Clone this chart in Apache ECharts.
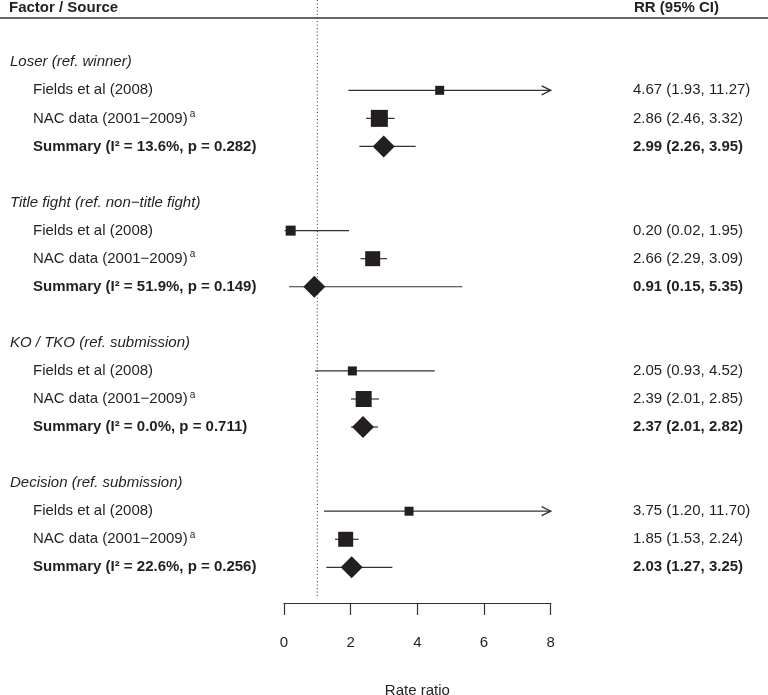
<!DOCTYPE html>
<html><head><meta charset="utf-8">
<script src="https://cdn.jsdelivr.net/npm/echarts@6/dist/echarts.min.js"></script>
<style>html,body{margin:0;padding:0;background:#fff}#c{width:768px;height:695px}</style>
</head><body><div id="c"></div>
<script>
// ---- data ----
const groupLabels = ['Loser (ref. winner)', 'Title fight (ref. non\u2212title fight)', 'KO / TKO (ref. submission)', 'Decision (ref. submission)'];
const fieldsLabel = 'Fields et al (2008)';
const nacLabel = 'NAC data (2001\u22122009)';
const fieldsRR = [4.67, 0.20, 2.05, 3.75];
const fieldsLo = [1.93, 0.02, 0.93, 1.20];
const fieldsHi = [11.27, 1.95, 4.52, 11.70];
const nacRR = [2.86, 2.66, 2.39, 1.85];
const nacLo = [2.46, 2.29, 2.01, 1.53];
const nacHi = [3.32, 3.09, 2.85, 2.24];
const sumRR = [2.99, 0.91, 2.37, 2.03];
const sumLo = [2.26, 0.15, 2.01, 1.27];
const sumHi = [3.95, 5.35, 2.82, 3.25];
const sumI2 = ['13.6%', '51.9%', '0.0%', '22.6%'];
const sumP = ['0.282', '0.149', '0.711', '0.256'];
const xTicks = [0, 2, 4, 6, 8];
const refValue = 1;

// ---- styling ----
const FONT = '"Liberation Sans", Arial, Helvetica, sans-serif';
const INK = '#231f20';
const fieldsBox = [9, 10, 9, 9];
const nacBox = [17, 15, 16, 15];
const diamondW = 22, diamondH = 22;
const xMin = 0, xMax = 8;

const rows = [];
groupLabels.forEach((g, i) => {
  const b = i * 5;
  rows.push({row: b, kind: 'group', label: g});
  rows.push({row: b + 1, kind: 'study', label: fieldsLabel, rr: fieldsRR[i], lo: fieldsLo[i], hi: fieldsHi[i], box: fieldsBox[i]});
  rows.push({row: b + 2, kind: 'study', label: nacLabel, sup: 'a', rr: nacRR[i], lo: nacLo[i], hi: nacHi[i], box: nacBox[i]});
  rows.push({row: b + 3, kind: 'summary', label: 'Summary (I\u00b2 = ' + sumI2[i] + ', p = ' + sumP[i] + ')', rr: sumRR[i], lo: sumLo[i], hi: sumHi[i]});
});
const f2 = v => v.toFixed(2);

function renderRow(params, api) {
  const r = rows[api.value(2)];
  const y = api.coord([0, r.row])[1];
  const ch = [];
  if (r.kind === 'group') {
    ch.push({type: 'text', x: 10, y: y, style: {text: r.label, font: 'italic 15px ' + FONT, fill: INK, verticalAlign: 'middle', align: 'left'}});
  } else if (r.sup) {
    ch.push({type: 'text', x: 33, y: y, style: {
      text: '{n|' + r.label + '}{s|' + r.sup + '}', verticalAlign: 'middle', align: 'left',
      rich: {n: {font: '15px ' + FONT, fill: INK, lineHeight: 18}, s: {font: '10px ' + FONT, fill: INK, lineHeight: 12, verticalAlign: 'top', padding: [0, 0, 0, 2]}}
    }});
  } else {
    ch.push({type: 'text', x: 33, y: y, style: {text: r.label, font: (r.kind === 'summary' ? 'bold ' : '') + '15px ' + FONT, fill: INK, verticalAlign: 'middle', align: 'left'}});
  }
  if (r.kind === 'group') return {type: 'group', children: ch};
  ch.push({type: 'text', x: 633, y: y, style: {text: f2(r.rr) + ' (' + f2(r.lo) + ', ' + f2(r.hi) + ')', font: (r.kind === 'summary' ? 'bold ' : '') + '15px ' + FONT, fill: INK, verticalAlign: 'middle', align: 'left'}});
  const x0 = api.coord([Math.max(r.lo, xMin), r.row])[0];
  const x1 = api.coord([Math.min(r.hi, xMax), r.row])[0];
  ch.push({type: 'line', shape: {x1: x0, y1: y, x2: x1, y2: y}, style: {stroke: '#333', lineWidth: 1.2}});
  if (r.hi > xMax) {
    ch.push({type: 'polyline', shape: {points: [[x1 - 9, y - 4.5], [x1, y], [x1 - 9, y + 4.5]]}, style: {stroke: '#333', lineWidth: 1.4, fill: null}});
  }
  const cx = api.coord([r.rr, r.row])[0];
  if (r.kind === 'study') {
    const s = r.box;
    ch.push({type: 'rect', shape: {x: cx - s / 2, y: y - s / 2, width: s, height: s}, style: {fill: INK}});
  } else {
    ch.push({type: 'polygon', shape: {points: [[cx - diamondW / 2, y], [cx, y - diamondH / 2], [cx + diamondW / 2, y], [cx, y + diamondH / 2]]}, style: {fill: INK}});
  }
  return {type: 'group', children: ch};
}

const chart = echarts.init(document.getElementById('c'), null, {renderer: 'canvas'});
const gridTop = 34.2, gridBottomPx = 595.4;
chart.setOption({
  animation: false,
  backgroundColor: '#fff',
  textStyle: {fontFamily: FONT},
  grid: {left: 284, right: 768 - 550.7, top: gridTop, bottom: 695 - gridBottomPx, containLabel: false, outerBoundsMode: 'none'},
  xAxis: {
    type: 'value', min: xMin, max: xMax, interval: 2, offset: 7.6, position: 'bottom',
    splitLine: {show: false},
    axisLine: {show: true, onZero: false, lineStyle: {color: '#333', width: 1.2}},
    axisTick: {show: true, length: 12, lineStyle: {color: '#333', width: 1.2}},
    axisLabel: {margin: 32, fontSize: 15, color: INK, fontFamily: FONT, formatter: v => xTicks.includes(v) ? String(v) : ''},
    name: 'Rate ratio', nameLocation: 'middle', nameGap: 80,
    nameTextStyle: {fontSize: 15, color: INK, fontFamily: FONT}
  },
  yAxis: {type: 'value', min: -1, max: 19, inverse: true, show: false},
  graphic: [
    {type: 'text', left: 9, top: 0, style: {text: 'Factor / Source', font: 'bold 15px ' + FONT, fill: INK}},
    {type: 'text', left: 634, top: 0, style: {text: 'RR (95% CI)', font: 'bold 15px ' + FONT, fill: INK}},
    {type: 'line', shape: {x1: 0, y1: 18, x2: 768, y2: 18}, style: {stroke: '#333', lineWidth: 1.5}}
  ],
  series: [
    {
      type: 'custom', clip: false, silent: true,
      data: [[refValue]],
      renderItem: (params, api) => {
        const x = api.coord([api.value(0), 0])[0];
        return {type: 'line', shape: {x1: x, y1: 0, x2: x, y2: gridBottomPx + 2}, style: {stroke: '#333', lineWidth: 1, lineDash: [1, 2.5]}};
      }
    },
    {
      type: 'custom', clip: false, silent: true,
      data: rows.map((r, i) => [r.rr == null ? 0 : r.rr, r.row, i]),
      encode: {x: 0, y: 1},
      renderItem: renderRow
    }
  ]
});
</script></body></html>
